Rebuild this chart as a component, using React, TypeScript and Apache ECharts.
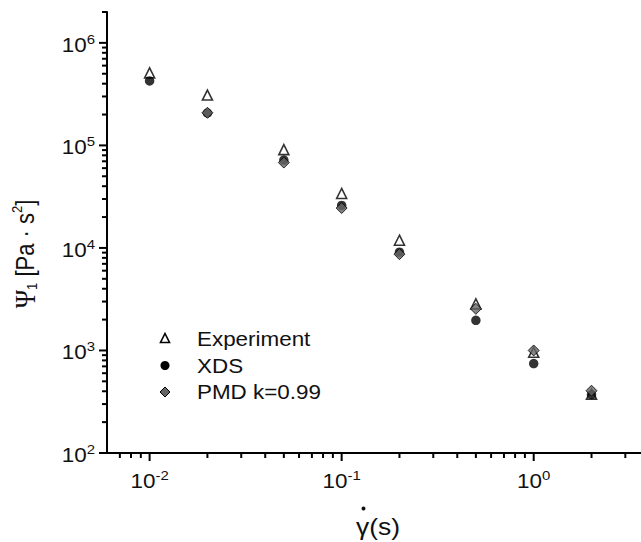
import React, { useEffect, useRef } from 'react';
import * as echarts from 'echarts';

// ---- data ----
const shearRates = [0.01, 0.02, 0.05, 0.1, 0.2, 0.5, 1, 2];
const experiment = [5.1e5, 3.1e5, 9.1e4, 3.4e4, 1.19e4, 2.85e3, 960, 375];
const xds = [4.25e5, 2.07e5, 7.2e4, 2.6e4, 9.1e3, 1.97e3, 745, 372];
const pmd = [null, 2.08e5, 6.8e4, 2.45e4, 8.7e3, 2.55e3, 1.0e3, 405];

const seriesNames = ['Experiment', 'XDS', 'PMD k=0.99'];

// ---- axes ----
const X_MIN = 0.006;
const X_MAX = 3.62;
const Y_MIN = 100;
const Y_MAX = 2e6;
const minorMultipliers = [2, 3, 4, 5, 6, 7, 8, 9];
const xMajorTicks = [0.01, 0.1, 1];
const xLabelExps = ['-2', '-1', '0'];
const xMinorTicks = [0.007, 0.008, 0.009,
  ...minorMultipliers.map((m) => m * 0.01),
  ...minorMultipliers.map((m) => m * 0.1),
  2, 3];
const yMajorTicks = [1e2, 1e3, 1e4, 1e5, 1e6];
const yLabelExps = ['2', '3', '4', '5', '6'];
const yMinorTicks = [
  ...[1e2, 1e3, 1e4, 1e5].flatMap((d) => minorMultipliers.map((m) => m * d)),
  2e6,
];

const FONT = '"Liberation Sans", Arial, sans-serif';
const SERIF = '"Liberation Serif", "DejaVu Serif", serif';
const TXT = '#111';
const STRETCH = 1.15;

const labelRich = {
  b: { fontSize: 19.5, fontFamily: FONT, fill: TXT },
  s: { fontSize: 13, fontFamily: FONT, fill: TXT, padding: [0, 0, 12, 0] },
};

export default function App() {
  const ref = useRef<HTMLDivElement>(null);

  useEffect(() => {
    document.body.style.margin = '0';
    const chart = echarts.init(ref.current!, null, { renderer: 'svg' });

    const xTickData = [
      ...xMajorTicks.map((v) => [v, Y_MIN, 8]),
      ...xMinorTicks.map((v) => [v, Y_MIN, 5]),
    ];
    const yTickData = [
      ...yMajorTicks.map((v) => [X_MIN, v, 8]),
      ...yMinorTicks.map((v) => [X_MIN, v, 5]),
    ];

    const option: any = {
      animation: false,
      grid: { left: 107, right: 0, top: 12, bottom: 89, containLabel: false },
      xAxis: {
        type: 'log',
        logBase: 10,
        min: X_MIN,
        max: X_MAX,
        axisLine: { show: true, onZero: false, lineStyle: { color: '#000', width: 2 } },
        axisTick: { show: false },
        axisLabel: { show: false },
        splitLine: { show: false },
      },
      yAxis: {
        type: 'log',
        logBase: 10,
        min: Y_MIN,
        max: Y_MAX,
        axisLine: { show: true, onZero: false, lineStyle: { color: '#000', width: 2 } },
        axisTick: { show: false },
        axisLabel: { show: false },
        splitLine: { show: false },
      },
      series: [
        {
          type: 'custom',
          name: 'xticks',
          coordinateSystem: 'cartesian2d',
          silent: true,
          clip: false,
          z: 6,
          data: xTickData,
          renderItem: (params: any, api: any) => {
            const p = api.coord([api.value(0), api.value(1)]);
            const len = api.value(2);
            return {
              type: 'line',
              shape: { x1: p[0], y1: p[1], x2: p[0], y2: p[1] + len },
              style: { stroke: '#000', lineWidth: 2 },
            };
          },
        },
        {
          type: 'custom',
          name: 'yticks',
          coordinateSystem: 'cartesian2d',
          silent: true,
          clip: false,
          z: 6,
          data: yTickData,
          renderItem: (params: any, api: any) => {
            const p = api.coord([api.value(0), api.value(1)]);
            const len = api.value(2);
            return {
              type: 'line',
              shape: { x1: p[0] - len, y1: p[1], x2: p[0], y2: p[1] },
              style: { stroke: '#000', lineWidth: 2 },
            };
          },
        },
        {
          type: 'custom',
          name: 'xlabels',
          coordinateSystem: 'cartesian2d',
          silent: true,
          clip: false,
          z: 6,
          data: xMajorTicks.map((v) => [v, Y_MIN]),
          renderItem: (params: any, api: any) => {
            const p = api.coord([api.value(0), api.value(1)]);
            return {
              type: 'text',
              x: p[0],
              y: p[1] + 28,
              scaleX: STRETCH,
              style: {
                text: '{b|10}{s|' + xLabelExps[params.dataIndex] + '}',
                rich: labelRich,
                align: 'center',
                verticalAlign: 'middle',
                fill: TXT,
              },
            };
          },
        },
        {
          type: 'custom',
          name: 'ylabels',
          coordinateSystem: 'cartesian2d',
          silent: true,
          clip: false,
          z: 6,
          data: yMajorTicks.map((v) => [X_MIN, v]),
          renderItem: (params: any, api: any) => {
            const p = api.coord([api.value(0), api.value(1)]);
            return {
              type: 'text',
              x: p[0] - 12,
              y: p[1] + 2,
              scaleX: STRETCH,
              style: {
                text: '{b|10}{s|' + yLabelExps[params.dataIndex] + '}',
                rich: labelRich,
                align: 'right',
                verticalAlign: 'middle',
                fill: TXT,
              },
            };
          },
        },
        {
          type: 'scatter',
          name: seriesNames[0],
          data: shearRates.map((x, i) => [x, experiment[i]]),
          symbol: 'triangle',
          symbolSize: 10,
          itemStyle: { color: '#fff', borderColor: '#000', borderWidth: 1.6 },
          z: 2,
        },
        {
          type: 'scatter',
          name: seriesNames[1],
          data: shearRates.map((x, i) => [x, xds[i]]),
          symbol: 'circle',
          symbolSize: 9.5,
          itemStyle: { color: '#000' },
          z: 3,
        },
        {
          type: 'scatter',
          name: seriesNames[2],
          data: shearRates
            .map((x, i) => [x, pmd[i]])
            .filter((d) => d[1] !== null),
          symbol: 'diamond',
          symbolSize: 11,
          itemStyle: { color: '#666', borderColor: '#000', borderWidth: 1 },
          z: 4,
        },
      ],
      graphic: [
        // legend
        {
          type: 'polygon',
          shape: { points: [[165, 333.5], [169.5, 342.5], [160.5, 342.5]] },
          style: { fill: '#fff', stroke: '#000', lineWidth: 1.6 },
        },
        { type: 'circle', shape: { cx: 165, cy: 365.5, r: 4.5 }, style: { fill: '#000' } },
        {
          type: 'polygon',
          shape: { points: [[165, 387], [170, 392], [165, 397], [160, 392]] },
          style: { fill: '#666', stroke: '#000', lineWidth: 1 },
        },
        {
          type: 'text', x: 197, y: 339.5, scaleX: STRETCH,
          style: { text: seriesNames[0], fontSize: 19.5, fontFamily: FONT, fill: TXT, align: 'left', verticalAlign: 'middle' },
        },
        {
          type: 'text', x: 197, y: 366, scaleX: STRETCH,
          style: { text: seriesNames[1], fontSize: 19.5, fontFamily: FONT, fill: TXT, align: 'left', verticalAlign: 'middle' },
        },
        {
          type: 'text', x: 197, y: 392.5, scaleX: STRETCH,
          style: { text: seriesNames[2], fontSize: 19.5, fontFamily: FONT, fill: TXT, align: 'left', verticalAlign: 'middle' },
        },
        // x axis title
        {
          type: 'text', x: 378, y: 527, scaleX: STRETCH,
          style: { text: 'γ(s)', fontSize: 23, fontFamily: FONT, fill: TXT, align: 'center', verticalAlign: 'middle' },
        },
        { type: 'circle', shape: { cx: 363.5, cy: 508.5, r: 2 }, style: { fill: TXT } },
        // y axis title
        {
          type: 'text', x: 25, y: 254, rotation: Math.PI / 2, scaleY: STRETCH,
          style: {
            text: '{g|Ψ}{sub|1} [Pa · s{sup|2}]',
            rich: {
              g: { fontSize: 25, fontFamily: SERIF, fill: TXT },
              sub: { fontSize: 13, fontFamily: FONT, fill: TXT, padding: [12, 0, 0, 0] },
              sup: { fontSize: 13, fontFamily: FONT, fill: TXT, padding: [0, 0, 14, 0] },
            },
            fontSize: 22,
            fontFamily: FONT,
            fill: TXT,
            align: 'center',
            verticalAlign: 'middle',
          },
        },
      ],
    };

    chart.setOption(option);
    return () => chart.dispose();
  }, []);

  return <div ref={ref} style={{ width: 641, height: 542 }} />;
}
